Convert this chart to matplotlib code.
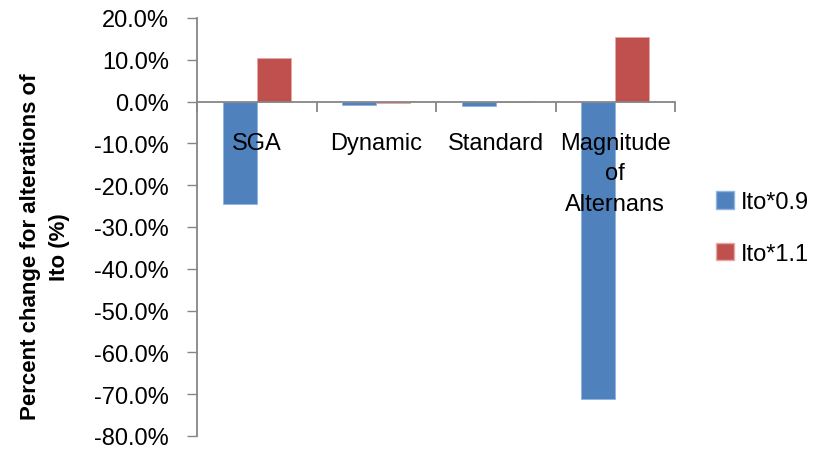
import matplotlib
matplotlib.use("Agg")
import matplotlib.pyplot as plt
from matplotlib.ticker import FuncFormatter, FixedLocator
from matplotlib.patches import Patch

categories = ["SGA", "Dynamic", "Standard", "Magnitude\nof\nAlternans"]
series_names = ["Ito*0.9", "Ito*1.1"]
ito_09 = [-24.4, -0.7, -1.0, -71.2]
ito_11 = [10.4, -0.4, 0.0, 15.5]
y_ticks = [20, 10, 0, -10, -20, -30, -40, -50, -60, -70, -80]

colors = ["#4F81BD", "#C0504D"]
edge_colors = ["#8EB4E3", "#E6A9A8"]
axis_gray = "#868686"

plt.rcParams["font.family"] = ["Liberation Sans Narrow", "Liberation Sans", "DejaVu Sans"]

fig = plt.figure(figsize=(8.17, 4.52), dpi=100)
ax = fig.add_axes([197 / 817, 1 - 437 / 452, (675 - 197) / 817, (437 - 19) / 452])

n = len(categories)
x = list(range(n))
width = 0.286
for k, vals in enumerate([ito_09, ito_11]):
    offs = (k - 0.5) * width
    ax.bar([i + offs for i in x], vals, width=width, color=colors[k],
           edgecolor=edge_colors[k], linewidth=0.6, label=series_names[k], zorder=2)

ax.set_xlim(-0.5, n - 0.5)
ax.set_ylim(-80, 20)
ax.yaxis.set_major_locator(FixedLocator(y_ticks))
ax.yaxis.set_major_formatter(FuncFormatter(lambda v, p: f"{v:.1f}%"))
ax.tick_params(axis="y", direction="out", length=7, width=1, color=axis_gray,
               labelsize=17, pad=13, labelcolor="black")

for side in ("top", "right"):
    ax.spines[side].set_visible(False)
ax.spines["left"].set_color(axis_gray)
ax.spines["left"].set_linewidth(1.3)
ax.spines["bottom"].set_position(("data", 0))
ax.spines["bottom"].set_color(axis_gray)
ax.spines["bottom"].set_linewidth(1.3)
ax.spines["bottom"].set_zorder(3)

ax.set_xticks([i - 0.5 for i in range(n + 1)])
ax.set_xticklabels([])
ax.tick_params(axis="x", direction="out", length=7, width=1.3, color=axis_gray)

for i, lab in enumerate(categories):
    ax.annotate(lab, xy=(i, 0), xytext=(0, -30), textcoords="offset pixels",
                ha="center", va="top", fontsize=17, linespacing=1.5, zorder=4,
                annotation_clip=False)

fig.text(45 / 817, 1 - 247 / 452, "Percent change for alterations of\nIto (%)",
         rotation=90, ha="center", va="center", fontsize=16, fontweight="bold",
         linespacing=1.45, multialignment="center")

handles = [Patch(facecolor=colors[k], edgecolor=edge_colors[k]) for k in range(2)]
fig.legend(handles, series_names, loc="center left", bbox_to_anchor=(716 / 817, 1 - 229 / 452),
           frameon=False, fontsize=17, handlelength=0.75, handleheight=0.75,
           handletextpad=0.3, labelspacing=1.25, borderaxespad=0, borderpad=0)

fig.savefig("out.png", dpi=100)
